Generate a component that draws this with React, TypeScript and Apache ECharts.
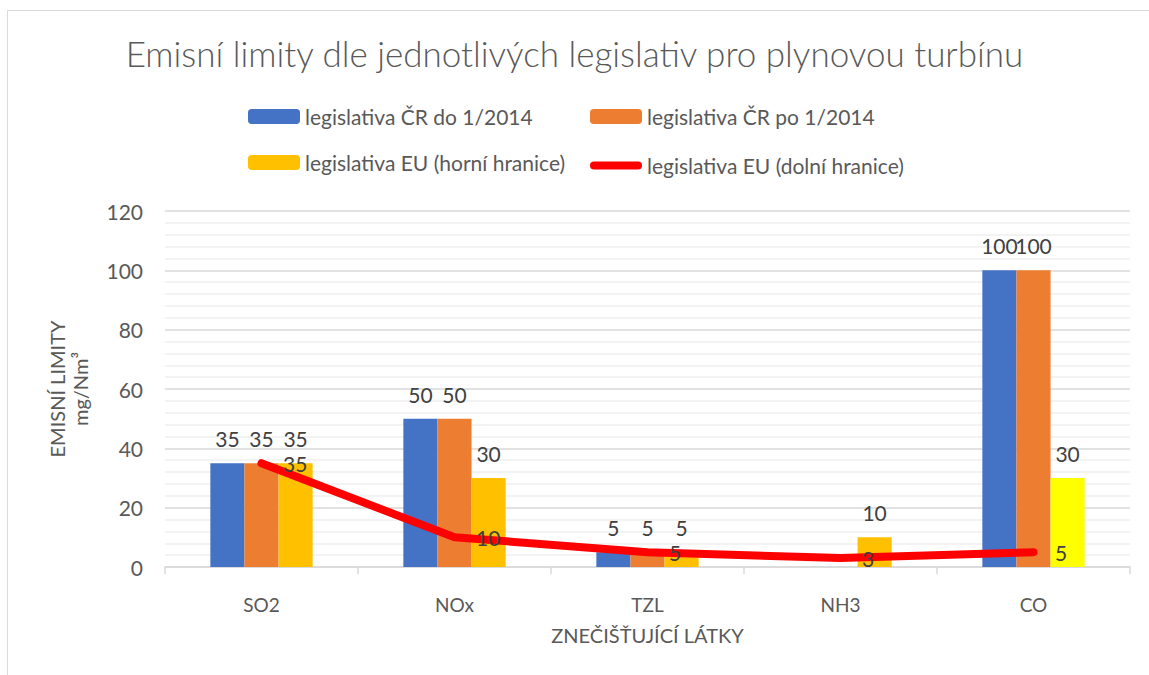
import React, { useEffect, useRef } from "react";
import * as echarts from "echarts";

const categories = ["SO2", "NOx", "TZL", "NH3", "CO"];
const seriesNames = [
  "legislativa ČR do 1/2014",
  "legislativa ČR po 1/2014",
  "legislativa EU (horní hranice)",
  "legislativa EU (dolní hranice)",
];
const crBefore: (number | null)[] = [35, 50, 5, null, 100];
const crAfter: (number | null)[] = [35, 50, 5, null, 100];
const euUpper: number[] = [35, 30, 5, 10, 30];
const euLower: number[] = [35, 10, 5, 3, 5];
const euUpperColors = ["#FFC000", "#FFC000", "#FFC000", "#FFC000", "#FFFF00"];
const yTicks = { min: 0, max: 120, interval: 20 };

const FONT = "Lato, 'Open Sans', sans-serif";
const TXT = "#595959";

export default function App() {
  const ref = useRef<HTMLDivElement>(null);
  useEffect(() => {
    if (!ref.current) return;
    const chart = echarts.init(ref.current, undefined, { renderer: "svg" });
    const barLabel = {
      show: true,
      position: "top",
      distance: 14,
      fontSize: 21,
      color: "#404040",
      fontFamily: FONT,
    };
    const legendText = { fontSize: 21, color: TXT, fontFamily: FONT };
    const legendBase = { padding: 0, itemWidth: 52, itemHeight: 15, textStyle: legendText };
    chart.setOption({
      animation: false,
      backgroundColor: "#ffffff",
      textStyle: { fontFamily: FONT },
      title: {
        text: "Emisní limity dle jednotlivých legislativ pro plynovou turbínu",
        left: "center",
        top: 30,
        textStyle: { fontSize: 35, fontWeight: 300, color: TXT, fontFamily: FONT },
      },
      graphic: [
        {
          type: "rect",
          shape: { x: 7.5, y: 10.5, width: 1200, height: 700 },
          style: { fill: "none", stroke: "#d9d9d9", lineWidth: 1 },
          silent: true,
        },
      ],
      legend: [
        { ...legendBase, data: [seriesNames[0]], left: 248, top: 106 },
        { ...legendBase, data: [seriesNames[1]], left: 590, top: 106 },
        { ...legendBase, data: [seriesNames[2]], left: 248, top: 152 },
        {
          ...legendBase,
          data: [
            {
              name: seriesNames[3],
              icon: "path://M4,0 H48 A4,4 0 0 1 48,8 H4 A4,4 0 0 1 4,0 Z",
            },
          ],
          left: 590,
          top: 155,
          itemHeight: 8,
        },
      ],
      grid: { left: 165, right: 19, top: 211, bottom: 108, containLabel: false },
      xAxis: {
        type: "category",
        data: categories,
        axisLine: { lineStyle: { color: "#d9d9d9", width: 1.5 } },
        axisTick: { show: true, length: 7, lineStyle: { color: "#d9d9d9", width: 1.5 } },
        axisLabel: { fontSize: 19, color: TXT, margin: 28, fontFamily: FONT },
        name: "ZNEČIŠŤUJÍCÍ LÁTKY",
        nameLocation: "middle",
        nameGap: 58,
        nameTextStyle: { fontSize: 20, color: TXT, fontFamily: FONT },
      },
      yAxis: {
        type: "value",
        min: yTicks.min,
        max: yTicks.max,
        interval: yTicks.interval,
        axisLine: { show: false },
        axisTick: { show: false },
        axisLabel: { fontSize: 21, color: TXT, margin: 22, fontFamily: FONT },
        splitLine: { lineStyle: { color: "#d9d9d9", width: 1.5 } },
        minorTick: { show: false, splitNumber: 5 },
        minorSplitLine: { show: true, lineStyle: { color: "#efefef", width: 1.5 } },
        name: "EMISNÍ LIMITY\nmg/Nm³",
        nameLocation: "middle",
        nameGap: 74,
        nameRotate: 90,
        nameTextStyle: { fontSize: 20, color: TXT, lineHeight: 23, fontFamily: FONT },
      },
      series: [
        {
          name: seriesNames[0],
          type: "bar",
          data: crBefore,
          itemStyle: { color: "#4472C4" },
          barGap: "0%",
          barCategoryGap: "47%",
          label: barLabel,
        },
        {
          name: seriesNames[1],
          type: "bar",
          data: crAfter,
          itemStyle: { color: "#ED7D31" },
          barGap: "0%",
          barCategoryGap: "47%",
          label: barLabel,
        },
        {
          name: seriesNames[2],
          type: "bar",
          data: euUpper.map((v, i) => ({ value: v, itemStyle: { color: euUpperColors[i] } })),
          itemStyle: { color: "#FFC000" },
          barGap: "0%",
          barCategoryGap: "47%",
          label: barLabel,
        },
        {
          name: seriesNames[3],
          type: "line",
          data: euLower,
          z: 5,
          symbol: "circle",
          symbolSize: 1,
          showSymbol: true,
          itemStyle: { color: "#FF0000" },
          lineStyle: { color: "#FF0000", width: 8, cap: "round", join: "round" },
          label: {
            show: true,
            position: "right",
            distance: 21,
            fontSize: 21,
            color: "#404040",
            fontFamily: FONT,
          },
        },
      ],
    });
    return () => chart.dispose();
  }, []);
  return (
    <div
      ref={ref}
      style={{ position: "fixed", left: 0, top: 0, width: 1149, height: 675 }}
    />
  );
}
